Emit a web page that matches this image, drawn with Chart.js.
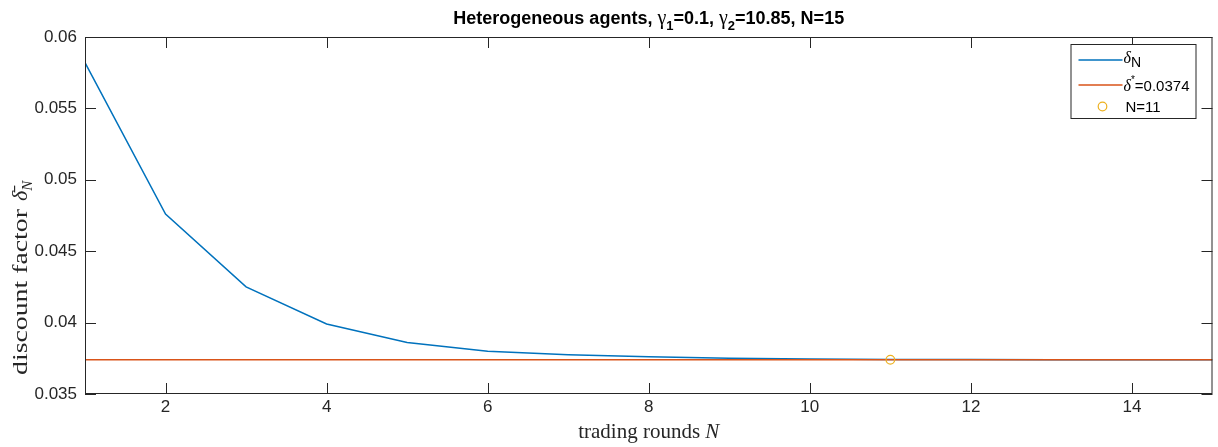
<!DOCTYPE html>
<html>
<head>
<meta charset="utf-8">
<script src="https://cdn.jsdelivr.net/npm/chart.js@4.4.1/dist/chart.umd.min.js"></script>
<style>
  html, body { margin: 0; padding: 0; background: #fff; }
  #wrap { width: 1218px; height: 447px; }
</style>
</head>
<body>
<div id="wrap"><canvas id="myChart" width="1218" height="447"></canvas></div>
<script>
// values
const rounds = [1, 2, 3, 4, 5, 6, 7, 8, 9, 10, 11, 12, 13, 14, 15];
const deltaN = [0.0582, 0.0476, 0.0425, 0.0399, 0.0386, 0.0380, 0.03775, 0.0376, 0.0375,
  0.03745, 0.03742, 0.03741, 0.0374, 0.0374, 0.0374];
const deltaStar = 0.0374;
const markerRound = 11;
const xTicks = [2, 4, 6, 8, 10, 12, 14];
const yTicks = [0.035, 0.04, 0.045, 0.05, 0.055, 0.06];
const yTickLabels = ["0.035", "0.04", "0.045", "0.05", "0.055", "0.06"];

const axisColor = "#262626";
const blue = "#0072BD";
const orange = "#D95319";
const yellow = "#EDB120";
const sans = '"Liberation Sans", Arial, Helvetica, sans-serif';
const serif = '"Liberation Serif", "DejaVu Serif", serif';

// draw a row of text pieces with their own fonts and vertical offsets
function drawRich(ctx, parts, x, y, align) {
  let w = 0;
  parts.forEach((p) => { ctx.font = p.font; w += ctx.measureText(p.t).width; });
  let cx = align === "center" ? x - w / 2 : x;
  ctx.textAlign = "left";
  ctx.textBaseline = "alphabetic";
  parts.forEach((p) => {
    ctx.font = p.font;
    ctx.fillText(p.t, cx, y + (p.dy || 0));
    cx += ctx.measureText(p.t).width;
  });
  return w;
}

const frame = {
  id: "frame",
  afterDatasetsDraw(chart) {
    const { ctx, chartArea: a, scales } = chart;
    const tl = 11;
    ctx.save();
    ctx.strokeStyle = axisColor;
    ctx.lineWidth = 1;
    ctx.strokeRect(a.left + 0.5, a.top + 0.5, a.right - a.left - 1, a.bottom - a.top - 1);
    ctx.beginPath();
    xTicks.forEach((v) => {
      const px = Math.round(scales.x.getPixelForValue(v)) + 0.5;
      ctx.moveTo(px, a.bottom); ctx.lineTo(px, a.bottom - tl);
      ctx.moveTo(px, a.top); ctx.lineTo(px, a.top + tl);
    });
    yTicks.forEach((v) => {
      const py = Math.round(scales.y.getPixelForValue(v)) + 0.5;
      ctx.moveTo(a.left, py); ctx.lineTo(a.left + tl, py);
      ctx.moveTo(a.right, py); ctx.lineTo(a.right - tl, py);
    });
    ctx.stroke();
    ctx.restore();
  },
  afterDraw(chart) {
    const { ctx, chartArea: a } = chart;
    const mid = (a.left + a.right) / 2;
    ctx.save();
    ctx.fillStyle = "#000";

    // title
    const b = "bold 18px " + sans;
    const bs = "bold 13px " + sans;
    const g = "20px " + serif;
    drawRich(ctx, [
      { t: "Heterogeneous agents, ", font: b },
      { t: "γ", font: g },
      { t: "1", font: bs, dy: 6 },
      { t: "=0.1, ", font: b },
      { t: "γ", font: g },
      { t: "2", font: bs, dy: 6 },
      { t: "=10.85, N=15", font: b },
    ], mid, 24, "center");

    // axis titles
    ctx.fillStyle = axisColor;
    drawRich(ctx, [
      { t: "trading rounds ", font: "21px " + serif },
      { t: "N", font: "italic 21px " + serif },
    ], mid, 438, "center");

    ctx.save();
    ctx.translate(27, 375);
    ctx.rotate(-Math.PI / 2);
    ctx.font = "21px " + serif;
    const lw = ctx.measureText("discount factor").width;
    const target = 166;
    ctx.save();
    ctx.scale(target / lw, 1);
    drawRich(ctx, [{ t: "discount factor", font: "21px " + serif }], 0, 0, "left");
    ctx.restore();
    drawRich(ctx, [
      { t: "δ\u0304", font: "italic 22px " + serif },
      { t: "N", font: "italic 15px " + serif, dy: 5 },
    ], target + 8, 0, "left");
    ctx.restore();

    // legend
    const bx = a.right - 142, by = a.top + 7, bw = 125, bh = 74;
    ctx.fillStyle = "#fff";
    ctx.fillRect(bx, by, bw, bh);
    ctx.strokeStyle = axisColor;
    ctx.lineWidth = 1;
    ctx.strokeRect(bx + 0.5, by + 0.5, bw, bh);

    const lx0 = bx + 8, lx1 = bx + 52, tx = bx + 53;
    ctx.lineWidth = 1.5;
    ctx.strokeStyle = blue;
    ctx.beginPath(); ctx.moveTo(lx0, by + 16); ctx.lineTo(lx1, by + 16); ctx.stroke();
    ctx.strokeStyle = orange;
    ctx.beginPath(); ctx.moveTo(lx0, by + 41); ctx.lineTo(lx1, by + 41); ctx.stroke();
    ctx.strokeStyle = yellow;
    ctx.lineWidth = 1.2;
    ctx.beginPath(); ctx.arc(bx + 32, by + 62.5, 4.3, 0, Math.PI * 2); ctx.stroke();

    ctx.fillStyle = "#000";
    drawRich(ctx, [
      { t: "δ", font: "italic 16px " + serif },
      { t: "N", font: "14px " + sans, dy: 4 },
    ], tx, by + 19, "left");
    drawRich(ctx, [
      { t: "δ", font: "italic 16px " + serif },
      { t: "*", font: "10px " + sans, dy: -8 },
      { t: "=" + deltaStar, font: "15px " + sans },
    ], tx, by + 47, "left");
    drawRich(ctx, [
      { t: "N=" + markerRound, font: "15px " + sans },
    ], tx + 2, by + 68, "left");
    ctx.restore();
  },
};

new Chart(document.getElementById("myChart"), {
  type: "line",
  data: {
    datasets: [
      {
        label: "δN",
        data: rounds.map((n, i) => ({ x: n, y: deltaN[i] })),
        borderColor: blue,
        borderWidth: 1.5,
        pointRadius: 0,
        tension: 0,
        order: 3,
      },
      {
        label: "δ*",
        data: [
          { x: rounds[0], y: deltaStar },
          { x: rounds[rounds.length - 1], y: deltaStar },
        ],
        borderColor: orange,
        borderWidth: 1.5,
        pointRadius: 0,
        order: 2,
      },
      {
        label: "N=" + markerRound,
        data: [{ x: markerRound, y: deltaStar }],
        showLine: false,
        pointRadius: 4.3,
        pointBorderColor: yellow,
        pointBackgroundColor: "rgba(0,0,0,0)",
        pointBorderWidth: 1.2,
        order: 1,
      },
    ],
  },
  options: {
    responsive: false,
    animation: false,
    layout: { padding: { top: 37, right: 1, left: 0, bottom: 0 } },
    plugins: {
      legend: { display: false },
      title: { display: false },
      tooltip: { enabled: false },
    },
    scales: {
      x: {
        type: "linear",
        min: 1,
        max: 15,
        grid: { display: false, drawTicks: false },
        border: { display: false },
        afterBuildTicks: (s) => { s.ticks = xTicks.map((v) => ({ value: v })); },
        afterFit: (s) => { s.height = 53; },
        ticks: {
          color: axisColor,
          font: { family: sans, size: 17 },
          padding: 3,
          autoSkip: false,
          maxRotation: 0,
        },
      },
      y: {
        type: "linear",
        min: 0.035,
        max: 0.06,
        grid: { display: false, drawTicks: false },
        border: { display: false },
        afterBuildTicks: (s) => { s.ticks = yTicks.map((v) => ({ value: v })); },
        afterFit: (s) => { s.width = 85; },
        ticks: {
          color: axisColor,
          font: { family: sans, size: 17 },
          padding: 8,
          autoSkip: false,
          callback: (v, i) => yTickLabels[i],
        },
      },
    },
  },
  plugins: [frame],
});
</script>
</body>
</html>
